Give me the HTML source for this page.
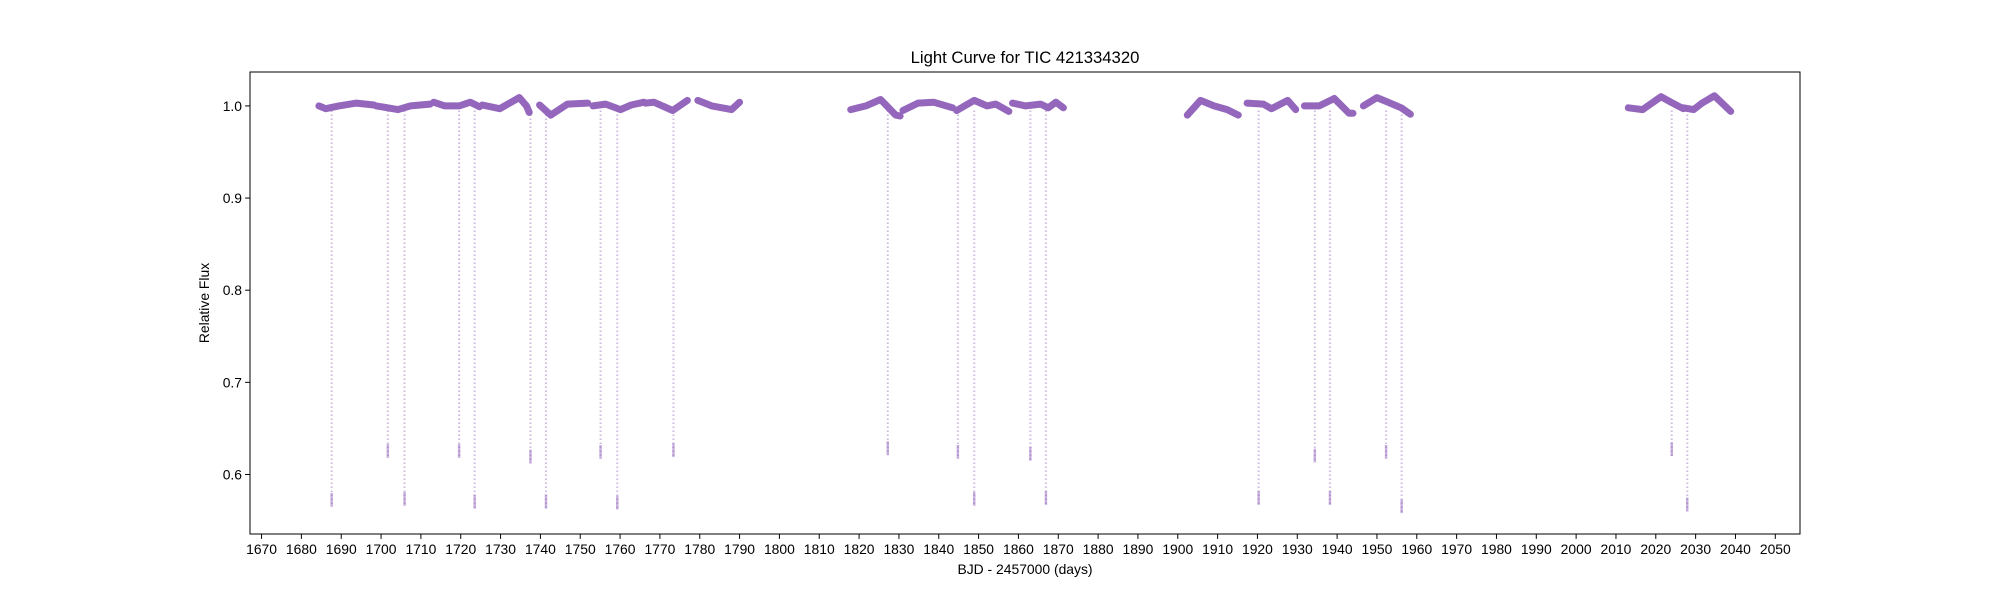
<!DOCTYPE html>
<html><head><meta charset="utf-8"><style>
body{margin:0;background:#fff;}
svg{display:block;font-family:"Liberation Sans","DejaVu Sans",sans-serif;}
</style></head><body>
<svg id="chart" width="2000" height="600" xmlns="http://www.w3.org/2000/svg">
<rect width="2000" height="600" fill="#fff"/>
<g id="plot"></g>
<text x="1025" y="63" font-size="16.7" text-anchor="middle">Light Curve for TIC 421334320</text>
<text x="1025" y="574" font-size="13.9" text-anchor="middle">BJD - 2457000 (days)</text>
<text transform="translate(209,303) rotate(-90)" font-size="13.9" text-anchor="middle">Relative Flux</text>
</svg>
<script>
const xTicks = [1670,1680,1690,1700,1710,1720,1730,1740,1750,1760,1770,1780,1790,1800,1810,1820,1830,1840,1850,1860,1870,1880,1890,1900,1910,1920,1930,1940,1950,1960,1970,1980,1990,2000,2010,2020,2030,2040,2050];
const yTicks = [0.6,0.7,0.8,0.9,1.0];
const yTickLabels = ["0.6","0.7","0.8","0.9","1.0"];
// baseline segments: [time, flux] nodes
const seg1 = [[1684.4,1.0],[1686.1,0.997],[1689.4,1.0],[1693.8,1.003],[1698.2,1.001]];
const seg2 = [[1698.8,1.0],[1704.2,0.996],[1707.4,1.0],[1712.3,1.002]];
const seg3 = [[1713.2,1.004],[1716.0,1.0],[1719.6,1.0],[1722.4,1.004],[1724.7,0.999]];
const seg4 = [[1725.4,1.001],[1729.8,0.997],[1734.7,1.009],[1736.5,1.0],[1737.2,0.993]];
const seg5 = [[1739.8,1.001],[1742.6,0.99],[1746.8,1.002],[1751.9,1.003]];
const seg6 = [[1753.2,1.0],[1756.4,1.002],[1760.1,0.996],[1762.8,1.001],[1766.0,1.004]];
const seg7 = [[1766.4,1.003],[1768.5,1.004],[1773.2,0.995],[1776.9,1.006]];
const seg8 = [[1779.5,1.006],[1783.0,1.0],[1788.0,0.996],[1790.0,1.004]];
const seg9 = [[1817.9,0.996],[1821.7,1.0],[1825.4,1.007],[1829.2,0.99],[1830.3,0.989]];
const seg10 = [[1831.0,0.995],[1834.8,1.003],[1838.7,1.004],[1843.5,0.998]];
const seg11 = [[1844.5,0.995],[1848.9,1.006],[1852.1,1.0],[1854.3,1.002],[1857.6,0.994]];
const seg12 = [[1858.5,1.003],[1861.8,1.0],[1865.6,1.002],[1867.5,0.998],[1869.4,1.004],[1871.3,0.998]];
const seg13 = [[1902.4,0.99],[1905.7,1.006],[1909.1,1.0],[1912.4,0.996],[1915.2,0.99]];
const seg14 = [[1917.4,1.003],[1921.5,1.002],[1923.5,0.997],[1927.6,1.006],[1929.6,0.996]];
const seg15 = [[1931.8,1.0],[1935.5,1.0],[1939.3,1.008],[1943.0,0.992],[1944.0,0.992]];
const seg16 = [[1946.6,1.0],[1950.0,1.009],[1952.8,1.004],[1956.1,0.998],[1958.4,0.991]];
const seg17 = [[2013.1,0.998],[2016.7,0.996],[2021.3,1.01],[2023.8,1.004],[2026.9,0.997]];
const seg18 = [[2026.9,0.998],[2029.5,0.996],[2031.6,1.003],[2034.7,1.011],[2038.8,0.994]];
const segments = [seg1,seg2,seg3,seg4,seg5,seg6,seg7,seg8,seg9,seg10,seg11,seg12,seg13,seg14,seg15,seg16,seg17,seg18];
const transitTimes = [1687.6,1701.7,1705.9,1719.6,1723.5,1737.5,1741.4,1755.1,1759.3,1773.4,1827.2,1844.8,1848.9,1863.0,1866.9,1920.3,1934.4,1938.2,1952.3,1956.2,2024.0,2027.9];
const transitDepths = [0.565,0.618,0.566,0.618,0.563,0.612,0.563,0.617,0.562,0.619,0.621,0.617,0.566,0.615,0.567,0.567,0.613,0.567,0.617,0.558,0.62,0.56];

const L=250,R=1800,T=72,B=534;
const X0=1667.1,X1=2056.2,Y0=0.5354,Y1=1.0368;
const sx=d=>L+(d-X0)/(X1-X0)*(R-L);
const sy=v=>B-(v-Y0)/(Y1-Y0)*(B-T);
const NS='http://www.w3.org/2000/svg';
const plot=document.getElementById('plot');
function mk(tag,attrs){const e=document.createElementNS(NS,tag);for(const k in attrs)e.setAttribute(k,attrs[k]);plot.appendChild(e);return e;}

transitTimes.forEach((t,i)=>{
  const x=sx(t);
  const ln=mk('line',{x1:x,x2:x,y1:sy(0.995),y2:sy(transitDepths[i]),stroke:'#9467bd','stroke-opacity':0.45,'stroke-width':2,'stroke-dasharray':'1.5 2.5'});
  
  
  const bt=mk('line',{x1:x,x2:x,y1:sy(transitDepths[i]+0.015),y2:sy(transitDepths[i]),stroke:'#9467bd','stroke-opacity':0.5,'stroke-width':2.5});
  
  
});
segments.forEach((s,i)=>{
  const pts=s.map(p=>sx(p[0]).toFixed(1)+','+sy(p[1]).toFixed(1)).join(' ');
  const pl=mk('polyline',{points:pts,fill:'none',stroke:'#9467bd','stroke-width':7,'stroke-linejoin':'round','stroke-linecap':'round'});
  
  
});
const frame=mk('rect',{x:L,y:T,width:R-L,height:B-T,fill:'none',stroke:'#000','stroke-width':1});


xTicks.forEach(t=>{
  const x=sx(t);
  const tk=mk('line',{x1:x,x2:x,y1:B,y2:B+4.9,stroke:'#000','stroke-width':1});
  
  
  const tx=mk('text',{x:x,y:B+20,'font-size':13.9,'text-anchor':'middle'});
  tx.textContent=t;
  
  
});
yTicks.forEach((v,i)=>{
  const y=sy(v);
  const tk=mk('line',{x1:L-4.9,x2:L,y1:y,y2:y,stroke:'#000','stroke-width':1});
  
  
  const tx=mk('text',{x:L-8,y:y+5,'font-size':13.9,'text-anchor':'end'});
  tx.textContent=yTickLabels[i];
  
  
});
</script>
</body></html>
